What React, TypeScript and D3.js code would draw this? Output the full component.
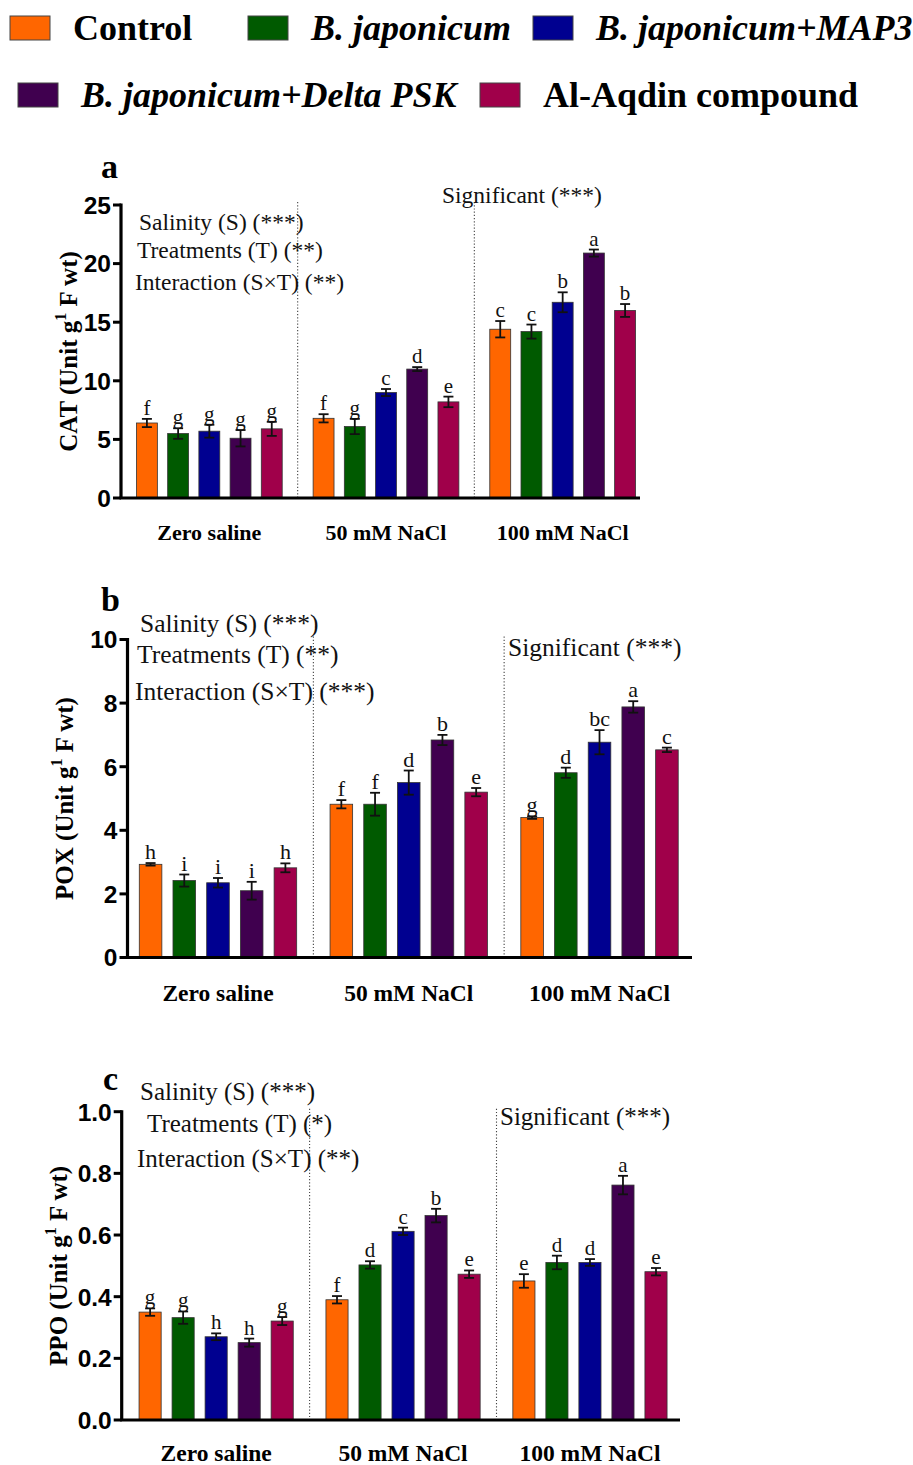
import * as d3 from "d3";

const treatments = [
  "Control",
  "B. japonicum",
  "B. japonicum+MAP3",
  "B. japonicum+Delta PSK",
  "Al-Aqdin compound",
];
const italicLegend = [false, true, true, true, false];
const colors = ["#FF6600", "#005A00", "#000090", "#40004F", "#A0004A"];
const salinity = ["Zero saline", "50 mM NaCl", "100 mM NaCl"];

// CAT
const catMean = [
  [6.4, 5.5, 5.7, 5.1, 5.9],
  [6.8, 6.1, 9.0, 11.0, 8.2],
  [14.4, 14.2, 16.7, 20.9, 16.0],
];
const catErr = [
  [0.35, 0.45, 0.55, 0.7, 0.6],
  [0.35, 0.65, 0.3, 0.17, 0.45],
  [0.7, 0.6, 0.85, 0.3, 0.55],
];
const catLetters = [
  ["f", "g", "g", "g", "g"],
  ["f", "g", "c", "d", "e"],
  ["c", "c", "b", "a", "b"],
];

// POX
const poxMean = [
  [2.93, 2.42, 2.35, 2.1, 2.82],
  [4.82, 4.82, 5.5, 6.84, 5.2],
  [4.4, 5.81, 6.77, 7.88, 6.53],
];
const poxErr = [
  [0.04, 0.19, 0.15, 0.28, 0.14],
  [0.13, 0.36, 0.38, 0.16, 0.13],
  [0.04, 0.16, 0.38, 0.18, 0.07],
];
const poxLetters = [
  ["h", "i", "i", "i", "h"],
  ["f", "f", "d", "b", "e"],
  ["g", "d", "bc", "a", "c"],
];

// PPO
const ppoMean = [
  [0.35, 0.332, 0.27, 0.251, 0.321],
  [0.39, 0.503, 0.612, 0.663, 0.473],
  [0.451, 0.511, 0.511, 0.762, 0.481],
];
const ppoErr = [
  [0.012, 0.02, 0.011, 0.013, 0.013],
  [0.012, 0.012, 0.012, 0.022, 0.012],
  [0.022, 0.022, 0.011, 0.03, 0.012],
];
const ppoLetters = [
  ["g", "g", "h", "h", "g"],
  ["f", "d", "c", "b", "e"],
  ["e", "d", "d", "a", "e"],
];

const catNotes = ["Salinity (S) (***)", "Treatments (T) (**)", "Interaction (S×T) (**)"];
const poxNotes = ["Salinity (S) (***)", "Treatments (T) (**)", "Interaction (S×T) (***)"];
const ppoNotes = ["Salinity (S) (***)", "Treatments (T) (*)", "Interaction (S×T) (**)"];
const sigNote = "Significant (***)";

const serif = "'Liberation Serif', 'Times New Roman', serif";
const sans = "'Liberation Sans', Arial, sans-serif";

const panels = [
  {
    tag: "a", name: "CAT", mean: catMean, err: catErr, letters: catLetters, notes: catNotes,
    yMax: 25, yStep: 5, fmt: d3.format("d"),
    yTop: 205, yBottom: 498, axisX: 121, band0: 121, band1: 651, axisEnd: 640,
    tagPos: [101, 178], titleX: 77,
    notePos: [[139, 230], [137, 258], [135, 290]], noteFont: 23.5, sigPos: [442, 203],
    catY: 540, catFont: 22, letterFont: 21,
  },
  {
    tag: "b", name: "POX", mean: poxMean, err: poxErr, letters: poxLetters, notes: poxNotes,
    yMax: 10, yStep: 2, fmt: d3.format("d"),
    yTop: 639.5, yBottom: 957.5, axisX: 127.5, band0: 122.6, band1: 694.9, axisEnd: 692,
    tagPos: [101, 611], titleX: 73,
    notePos: [[140, 632], [137, 663], [135, 700]], noteFont: 25.5, sigPos: [508, 656],
    catY: 1001, catFont: 23.5, letterFont: 22,
  },
  {
    tag: "c", name: "PPO", mean: ppoMean, err: ppoErr, letters: ppoLetters, notes: ppoNotes,
    yMax: 1, yStep: 0.2, fmt: d3.format(".1f"),
    yTop: 1111.7, yBottom: 1420, axisX: 121.7, band0: 122.7, band1: 683.4, axisEnd: 680,
    tagPos: [103, 1090], titleX: 67,
    notePos: [[140, 1100], [147, 1132], [137, 1167]], noteFont: 25, sigPos: [500, 1125],
    catY: 1461, catFont: 23.5, letterFont: 21,
  },
];

const legendPos = [
  [10, 0], [248, 0], [533, 0], [18, 1], [480, 1],
];

function Panel({ p }: { p: (typeof panels)[number] }) {
  const y = d3.scaleLinear().domain([0, p.yMax]).range([p.yBottom, p.yTop]);
  const groups = d3.scaleBand().domain(salinity).range([p.band0, p.band1]);
  const inner = d3
    .scaleBand()
    .domain(treatments)
    .range([0, groups.bandwidth()])
    .paddingInner(0.33)
    .paddingOuter(0.495);
  const ticks = d3.range(0, p.yMax + p.yStep / 2, p.yStep);
  const cap = 5;
  const titleY = (p.yTop + p.yBottom) / 2;
  return (
    <g>
      <text x={p.tagPos[0]} y={p.tagPos[1]} fontFamily={serif} fontWeight="bold" fontSize={34}>
        {p.tag}
      </text>
      {/* dotted separators */}
      {salinity.slice(1).map((s) => (
        <line
          key={s}
          x1={groups(s)}
          x2={groups(s)}
          y1={p.yTop - 3}
          y2={p.yBottom}
          stroke="#444"
          strokeWidth={1.1}
          strokeDasharray="1.2,2"
        />
      ))}
      {/* bars */}
      {salinity.map((s, gi) =>
        treatments.map((t, i) => {
          const x = (groups(s) as number) + (inner(t) as number);
          const w = inner.bandwidth();
          const v = p.mean[gi][i];
          const e = p.err[gi][i];
          const cx = x + w / 2;
          return (
            <g key={s + t}>
              <rect
                x={x}
                y={y(v)}
                width={w}
                height={p.yBottom - y(v)}
                fill={colors[i]}
                stroke="#333"
                strokeWidth={0.8}
              />
              <g stroke="#111" strokeWidth={1.8}>
                <line x1={cx} x2={cx} y1={y(v + e)} y2={y(v - e)} />
                <line x1={cx - cap} x2={cx + cap} y1={y(v + e)} y2={y(v + e)} />
                <line x1={cx - cap} x2={cx + cap} y1={y(v - e)} y2={y(v - e)} />
              </g>
              <text
                x={cx}
                y={y(v + e) - 4}
                textAnchor="middle"
                fontFamily={serif}
                fontSize={p.letterFont}
                fill="#111"
              >
                {p.letters[gi][i]}
              </text>
            </g>
          );
        })
      )}
      {/* axes */}
      <line x1={p.axisX} x2={p.axisX} y1={p.yTop - 1.5} y2={p.yBottom} stroke="#000" strokeWidth={3.2} />
      <line x1={p.axisX - 1.5} x2={p.axisEnd} y1={p.yBottom} y2={p.yBottom} stroke="#000" strokeWidth={3.2} />
      {ticks.map((t) => (
        <g key={t}>
          <line x1={p.axisX - 8} x2={p.axisX} y1={y(t)} y2={y(t)} stroke="#000" strokeWidth={3} />
          <text
            x={p.axisX - 10}
            y={y(t)}
            dy="0.36em"
            textAnchor="end"
            fontFamily={sans}
            fontWeight="bold"
            fontSize={24.5}
          >
            {p.fmt(t)}
          </text>
        </g>
      ))}
      {/* y title */}
      <text
        transform={`translate(${p.titleX},${titleY}) rotate(-90)`}
        textAnchor="middle"
        fontFamily={serif}
        fontWeight="bold"
        fontSize={25}
      >
        {p.name} (Unit g
        <tspan fontSize={16} dy={-11}>1</tspan>
        <tspan dy={11}> F wt)</tspan>
      </text>
      {/* category labels */}
      {salinity.map((s) => (
        <text
          key={s}
          x={(groups(s) as number) + groups.bandwidth() / 2}
          y={p.catY}
          textAnchor="middle"
          fontFamily={serif}
          fontWeight="bold"
          fontSize={p.catFont}
        >
          {s}
        </text>
      ))}
      {/* statistics notes */}
      {p.notes.map((n, i) => (
        <text
          key={n}
          x={p.notePos[i][0]}
          y={p.notePos[i][1]}
          fontFamily={serif}
          fontSize={p.noteFont}
          fill="#111"
        >
          {n}
        </text>
      ))}
      <text x={p.sigPos[0]} y={p.sigPos[1]} fontFamily={serif} fontSize={p.noteFont} fill="#111">
        {sigNote}
      </text>
    </g>
  );
}

export default function App() {
  return (
    <svg
      width={913}
      height={1465}
      style={{ position: "absolute", left: 0, top: 0, background: "#fff" }}
    >
      {treatments.map((t, i) => {
        const [lx, row] = legendPos[i];
        const ly = 16 + row * 67;
        return (
          <g key={t}>
            <rect x={lx} y={ly} width={40} height={24} fill={colors[i]} stroke="#444" strokeWidth={1} />
            <text
              x={lx + 63}
              y={ly + 24}
              fontFamily={serif}
              fontWeight="bold"
              fontStyle={italicLegend[i] ? "italic" : "normal"}
              fontSize={36}
            >
              {t}
            </text>
          </g>
        );
      })}
      {panels.map((p) => (
        <Panel key={p.tag} p={p} />
      ))}
    </svg>
  );
}
